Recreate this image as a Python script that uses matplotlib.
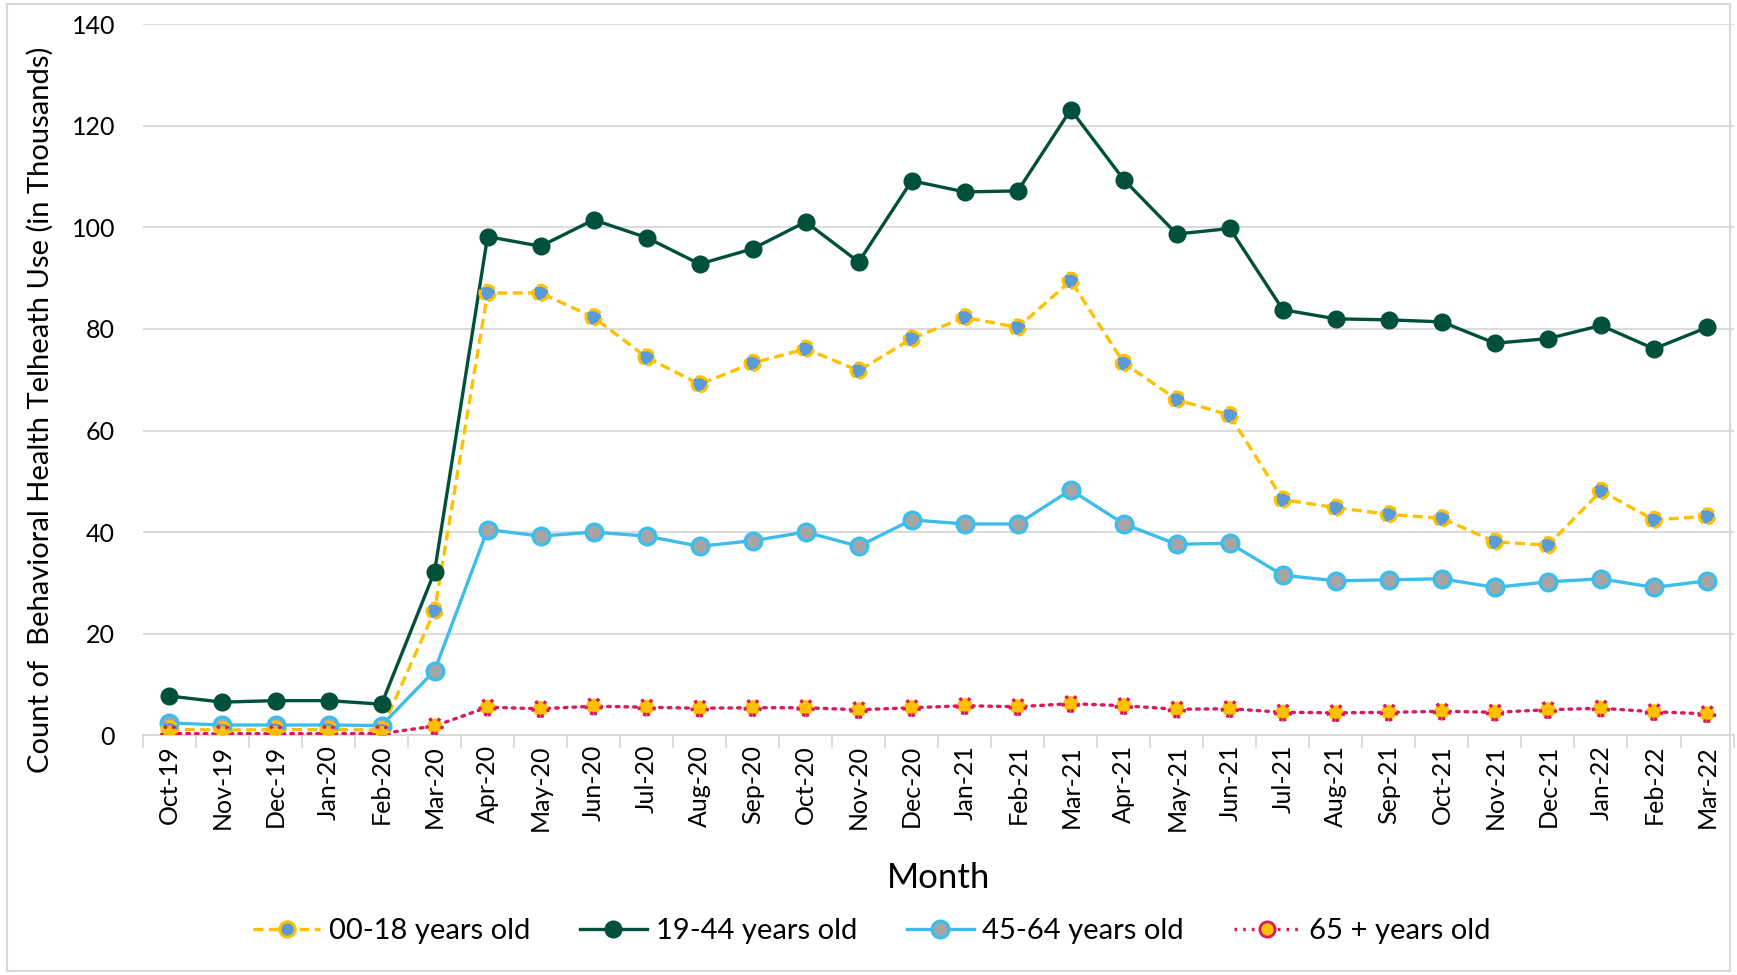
import matplotlib.pyplot as plt
from matplotlib.lines import Line2D
from matplotlib.patches import Rectangle
import numpy as np

months = ["Oct-19", "Nov-19", "Dec-19", "Jan-20", "Feb-20", "Mar-20", "Apr-20", "May-20",
          "Jun-20", "Jul-20", "Aug-20", "Sep-20", "Oct-20", "Nov-20", "Dec-20", "Jan-21",
          "Feb-21", "Mar-21", "Apr-21", "May-21", "Jun-21", "Jul-21", "Aug-21", "Sep-21",
          "Oct-21", "Nov-21", "Dec-21", "Jan-22", "Feb-22", "Mar-22"]

age_00_18 = [1.2, 1.0, 1.1, 1.1, 1.0, 24.5, 87.1, 87.1, 82.3, 74.4, 69.1, 73.3, 76.1, 71.8,
             78.1, 82.3, 80.3, 89.5, 73.3, 66.1, 63.0, 46.4, 44.8, 43.5, 42.7, 38.1, 37.4,
             48.1, 42.4, 43.1]
age_19_44 = [7.7, 6.5, 6.8, 6.8, 6.1, 32.2, 98.2, 96.3, 101.5, 98.0, 92.8, 95.8, 101.1, 93.2,
             109.2, 107.0, 107.2, 123.2, 109.4, 98.7, 99.8, 83.8, 82.0, 81.8, 81.4, 77.2, 78.1,
             80.7, 76.1, 80.3]
age_45_64 = [2.4, 2.0, 2.0, 2.0, 1.9, 12.7, 40.5, 39.2, 40.0, 39.2, 37.2, 38.3, 40.0, 37.2,
             42.4, 41.6, 41.6, 48.3, 41.6, 37.6, 37.8, 31.5, 30.4, 30.6, 30.8, 29.1, 30.2,
             30.8, 29.1, 30.4]
age_65_up = [0.3, 0.3, 0.3, 0.3, 0.3, 1.8, 5.5, 5.2, 5.7, 5.5, 5.3, 5.4, 5.4, 5.0,
             5.4, 5.8, 5.6, 6.2, 5.8, 5.1, 5.2, 4.5, 4.4, 4.5, 4.7, 4.5, 5.0,
             5.3, 4.6, 4.2]

labels = ["00-18 years old", "19-44 years old", "45-64 years old", "65 + years old"]

GOLD = "#FFC000"
GREEN = "#00503B"
SKY = "#3DBDEC"
CRIMSON = "#D81B60"
DASH = (0, (3, 1.6))
DOT = (0, (0.8, 1.8))

plt.rcParams["font.family"] = ["Lato", "DejaVu Sans"]

fig = plt.figure(figsize=(17.37, 9.75), dpi=100)
ax = fig.add_axes([0.0823, 0.246, 0.9157, 0.729])
fig.patches.append(Rectangle((0.004, 0.004), 0.992, 0.992, transform=fig.transFigure,
                             fill=False, edgecolor="#D9D9D9", linewidth=1.5))

x = np.arange(len(months))

# 00-18: dashed gold line, blue markers with dashed gold rim
ax.plot(x, age_00_18, color=GOLD, linewidth=2.4, linestyle=DASH, zorder=3)
ax.scatter(x, age_00_18, s=120, facecolor="#5B9BD5", edgecolor=GOLD, linewidth=2.2,
           linestyle="--", zorder=4)

# 19-44: solid dark green
ax.plot(x, age_19_44, color=GREEN, linewidth=2.4, marker="o", markersize=12,
        markerfacecolor=GREEN, markeredgecolor=GREEN, zorder=3)

# 45-64: solid sky blue, gray marker fill
ax.plot(x, age_45_64, color=SKY, linewidth=2.4, marker="o", markersize=12,
        markerfacecolor="#A5A5A5", markeredgecolor=SKY, markeredgewidth=2.4, zorder=3)

# 65+: dotted crimson line, gold markers with dotted crimson rim
ax.plot(x, age_65_up, color=CRIMSON, linewidth=2.4, linestyle=DOT,
        dash_capstyle="round", zorder=3)
ax.scatter(x, age_65_up, s=120, facecolor=GOLD, edgecolor=CRIMSON, linewidth=2.4,
           linestyle=":", zorder=4)

ax.set_xlim(-0.5, len(months) - 0.5)
ax.set_ylim(0, 140)
ax.set_yticks(np.arange(0, 141, 20))
ax.yaxis.grid(True, color="#D9D9D9", linewidth=1.3)
ax.set_axisbelow(True)

ax.set_xticks(x)
ax.set_xticklabels(months, rotation=90, fontsize=18)
ax.set_xticks(np.arange(-0.5, len(months)), minor=True)
ax.tick_params(axis="x", which="major", length=0, pad=7)
ax.tick_params(axis="x", which="minor", length=9, color="#D9D9D9", width=1.3)
ax.tick_params(axis="y", length=0, labelsize=18, pad=20)

for side in ["top", "right", "left"]:
    ax.spines[side].set_visible(False)
ax.spines["bottom"].set_color("#D9D9D9")
ax.spines["bottom"].set_linewidth(1.3)

ax.set_xlabel("Month", fontsize=25, labelpad=22)
ax.set_ylabel("Count of  Behavioral Health Telheath Use (in Thousands)", fontsize=21)
ax.yaxis.set_label_coords(-0.056, 0.458)

handles = [
    Line2D([], [], color=GOLD, linewidth=2.4, linestyle=DASH, marker="o", markersize=11,
           markerfacecolor="#5B9BD5", markeredgecolor=GOLD, markeredgewidth=2.2),
    Line2D([], [], color=GREEN, linewidth=2.4, marker="o", markersize=12,
           markerfacecolor=GREEN, markeredgecolor=GREEN),
    Line2D([], [], color=SKY, linewidth=2.4, marker="o", markersize=12,
           markerfacecolor="#A5A5A5", markeredgecolor=SKY, markeredgewidth=2.4),
    Line2D([], [], color=CRIMSON, linewidth=2.4, linestyle=DOT, marker="o", markersize=11,
           markerfacecolor=GOLD, markeredgecolor=CRIMSON, markeredgewidth=2.0),
]
fig.legend(handles, labels, loc="center", bbox_to_anchor=(0.502, 0.045), ncol=4,
           frameon=False, fontsize=21, handlelength=2.3, columnspacing=1.7,
           handletextpad=0.3)

fig.savefig("out.png", dpi=100)
